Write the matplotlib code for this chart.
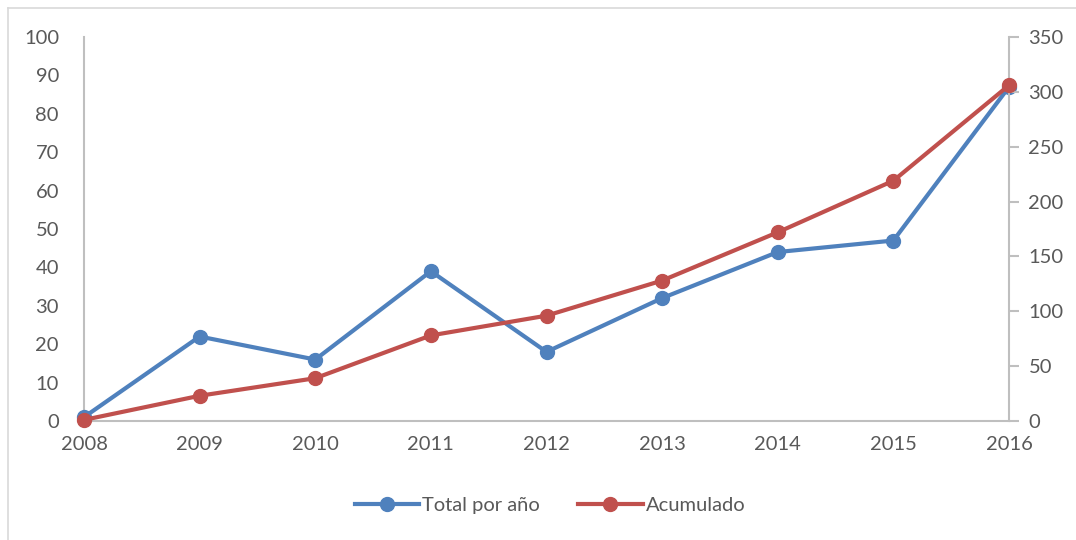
import matplotlib
matplotlib.use("Agg")
import matplotlib.pyplot as plt
from matplotlib.lines import Line2D

years = [2008, 2009, 2010, 2011, 2012, 2013, 2014, 2015, 2016]
total_por_anio = [1, 22, 16, 39, 18, 32, 44, 47, 87]
acumulado = [1, 23, 39, 78, 96, 128, 172, 219, 306]
left_ticks = list(range(0, 101, 10))
right_ticks = list(range(0, 351, 50))

BLUE = "#4F81BD"
RED = "#C0504D"
TXT = "#595959"
AX = "#BFBFBF"
FS = 14.5

plt.rcParams['font.family'] = ['Lato', 'DejaVu Sans']

W, H = 1076, 540
fig = plt.figure(figsize=(W / 100, H / 100), dpi=100)

# chart border
fig.add_artist(Line2D([8 / W, 8 / W], [0, 1 - 8 / H], transform=fig.transFigure, color="#D9D9D9", lw=1.2))
fig.add_artist(Line2D([8 / W, 1], [1 - 8 / H, 1 - 8 / H], transform=fig.transFigure, color="#D9D9D9", lw=1.2))

l, r, b, t = 84 / W, 1009 / W, 1 - 421 / H, 1 - 37 / H
ax = fig.add_axes([l, b, r - l, t - b])
ax2 = ax.twinx()

ax.plot(years, total_por_anio, color=BLUE, lw=3, marker="o", ms=10, clip_on=False, zorder=3)
ax2.plot(years, acumulado, color=RED, lw=3, marker="o", ms=10, clip_on=False, zorder=3)

ax.set_xlim(2008, 2016)
ax.set_ylim(0, 100)
ax2.set_ylim(0, 350)
ax.set_xticks(years)
ax.set_yticks(left_ticks)
ax2.set_yticks(right_ticks)

for a in (ax, ax2):
    a.spines['top'].set_visible(False)
    for s in a.spines.values():
        s.set_color(AX)
        s.set_linewidth(1.5)
ax.spines['right'].set_visible(False)
ax2.spines['left'].set_visible(False)
ax2.spines['bottom'].set_visible(False)

ax.tick_params(axis='x', length=0, pad=11, labelsize=FS, colors=TXT)
ax.tick_params(axis='y', length=0, pad=18, labelsize=FS, colors=TXT)
ax2.tick_params(axis='y', length=7, width=1.5, color=AX, direction='out', pad=7, labelsize=FS, labelcolor=TXT)

handles = [Line2D([], [], color=BLUE, lw=3, marker="o", ms=10),
           Line2D([], [], color=RED, lw=3, marker="o", ms=10)]
fig.legend(handles, ["Total por año", "Acumulado"], loc="center", bbox_to_anchor=(550 / W, 1 - 505 / H),
           ncol=2, frameon=False, fontsize=FS, labelcolor=TXT, handlelength=3.2, handletextpad=0.15,
           columnspacing=1.9)

fig.savefig("out.png", dpi=100)
